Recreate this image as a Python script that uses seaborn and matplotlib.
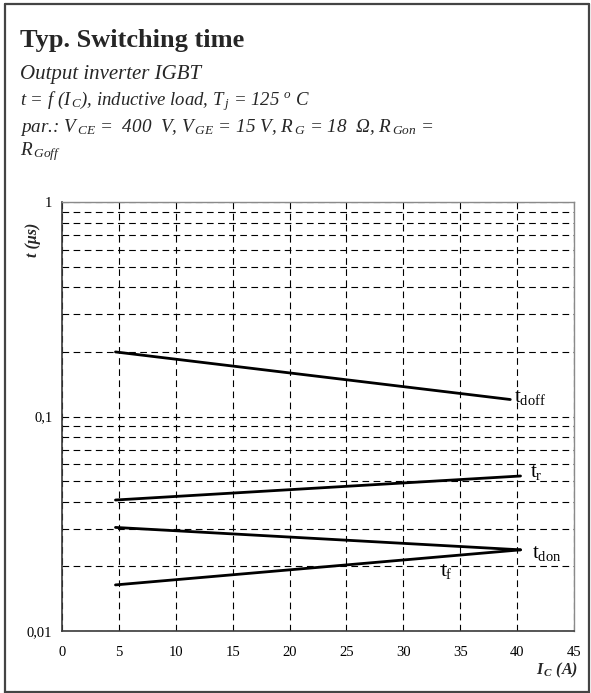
import matplotlib
matplotlib.use("Agg")
import matplotlib.pyplot as plt
import matplotlib.ticker as mticker
from matplotlib.lines import Line2D
import numpy as np
import pandas as pd
import seaborn as sns

# Collector current (A) at the start/end of each curve and switching times (µs)
ic_doff = [4.7, 39.4]
t_doff = [0.200, 0.120]
ic_r = [4.7, 40.3]
t_r = [0.0408, 0.0528]
ic_don = [4.7, 40.3]
t_don = [0.0304, 0.0239]
ic_f = [4.7, 40.3]
t_f = [0.0164, 0.0239]

curve_names = ["doff", "r", "don", "f"]
curve_labels = [r"t$_{\mathrm{doff}}$", r"t$_{\mathrm{r}}$", r"t$_{\mathrm{don}}$", r"t$_{\mathrm{f}}$"]
label_x = [39.7, 41.1, 41.3, 33.2]
label_y = [0.123, 0.0551, 0.0231, 0.0190]

x_ticks = [0, 5, 10, 15, 20, 25, 30, 35, 40, 45]
y_ticks = [0.01, 0.1, 1]
y_tick_labels = ["0,01", "0,1", "1"]

sns.set_theme(style="white")
plt.rcParams["font.family"] = ["Liberation Serif", "DejaVu Serif"]
plt.rcParams["mathtext.fontset"] = "custom"
plt.rcParams["mathtext.rm"] = "Liberation Serif"
plt.rcParams["mathtext.it"] = "Liberation Serif:italic"
plt.rcParams["mathtext.bf"] = "Liberation Serif:bold"
plt.rcParams["mathtext.bfit"] = "Liberation Serif:bold:italic"

W, H = 591, 693
fig = plt.figure(figsize=(W / 100, H / 100), dpi=100)
fig.patch.set_facecolor("white")

# plot area
ax = fig.add_axes([62 / W, 1 - 631 / H, (574 - 62) / W, (631 - 202) / H])

df = pd.concat([
    pd.DataFrame({"ic": ic_doff, "t": t_doff, "curve": "doff"}),
    pd.DataFrame({"ic": ic_r, "t": t_r, "curve": "r"}),
    pd.DataFrame({"ic": ic_don, "t": t_don, "curve": "don"}),
    pd.DataFrame({"ic": ic_f, "t": t_f, "curve": "f"}),
], ignore_index=True)

sns.lineplot(data=df, x="ic", y="t", hue="curve", hue_order=curve_names,
             palette=["black"] * 4, linewidth=2.0, legend=False, ax=ax,
             estimator=None, sort=False)

ax.set_yscale("log")
ax.set_xlim(0, 45)
ax.set_ylim(0.01, 1)

ax.xaxis.set_major_locator(mticker.FixedLocator(x_ticks))
ax.yaxis.set_major_locator(mticker.FixedLocator(y_ticks))
ax.yaxis.set_major_formatter(mticker.FixedFormatter(y_tick_labels))
ax.yaxis.set_minor_locator(mticker.LogLocator(base=10, subs=np.arange(2, 10)))
ax.yaxis.set_minor_formatter(mticker.NullFormatter())

ax.tick_params(axis="both", which="both", length=0, labelsize=10.5, colors="black")
ax.tick_params(axis="y", pad=7)
ax.tick_params(axis="x", pad=11)

grid_kw = dict(color="black", linewidth=0.8, linestyle=(0, (6, 4)))
ax.grid(True, which="major", axis="both", **grid_kw)
ax.grid(True, which="minor", axis="y", **grid_kw)

for side in ["left", "bottom"]:
    ax.spines[side].set_color("#3a3a3a")
    ax.spines[side].set_linewidth(1.2)
for side in ["right", "top"]:
    ax.spines[side].set_color("#8a8a8a")
    ax.spines[side].set_linewidth(1.0)

ax.set_xlabel("")
ax.set_ylabel("")

for lx, ly, lab in zip(label_x, label_y, curve_labels):
    ax.text(lx, ly, lab, fontsize=15, ha="left", va="center", color="black")

# axis titles
fig.text(578 / W, 1 - 670 / H, r"I$_{\,\mathbfit{C}}$ (A)", fontsize=11.5,
         fontweight="bold", fontstyle="italic", ha="right", va="center")
fig.text(33 / W, 1 - 240 / H, "t (μs)", fontsize=11.5, fontweight="bold",
         fontstyle="italic", rotation=90, ha="center", va="center")

# heading block
fig.text(20 / W, 1 - 40 / H, "Typ. Switching time", fontsize=19,
         fontweight="bold", ha="left", va="center")
fig.text(20 / W, 1 - 74 / H, "Output inverter IGBT", fontsize=15,
         fontstyle="italic", ha="left", va="center")
fig.text(20 / W, 1 - 101 / H,
         r"t = f (I$_{\,\mathit{C}}$), inductive load, T$_{\,\mathit{j}}$ = 125 $^{\mathit{o}}$ C",
         fontsize=13.5, fontstyle="italic", ha="left", va="center")
fig.text(20 / W, 1 - 127 / H,
         r"par.: V$_{\,\mathit{CE}}$ =  400  V, V$_{\,\mathit{GE}}$ = 15 V, R$_{\,\mathit{G}}$ = 18  Ω, R$_{\,\mathit{Gon}}$ =",
         fontsize=13.8, fontstyle="italic", ha="left", va="center")
fig.text(20 / W, 1 - 152 / H, r"R$_{\,\mathit{Goff}}$", fontsize=13.8,
         fontstyle="italic", ha="left", va="center")

# outer frame
frame_kw = dict(color="#444444", linewidth=1.6, transform=fig.transFigure)
fig.add_artist(Line2D([5 / W, 5 / W], [0, 1 - 4 / H], **frame_kw))
fig.add_artist(Line2D([5 / W, 589 / W], [1 - 4 / H, 1 - 4 / H], **frame_kw))
fig.add_artist(Line2D([589 / W, 589 / W], [0, 1 - 4 / H], **frame_kw))
fig.add_artist(Line2D([5 / W, 589 / W], [1 / H, 1 / H], **frame_kw))

fig.savefig("out.png", dpi=100)
